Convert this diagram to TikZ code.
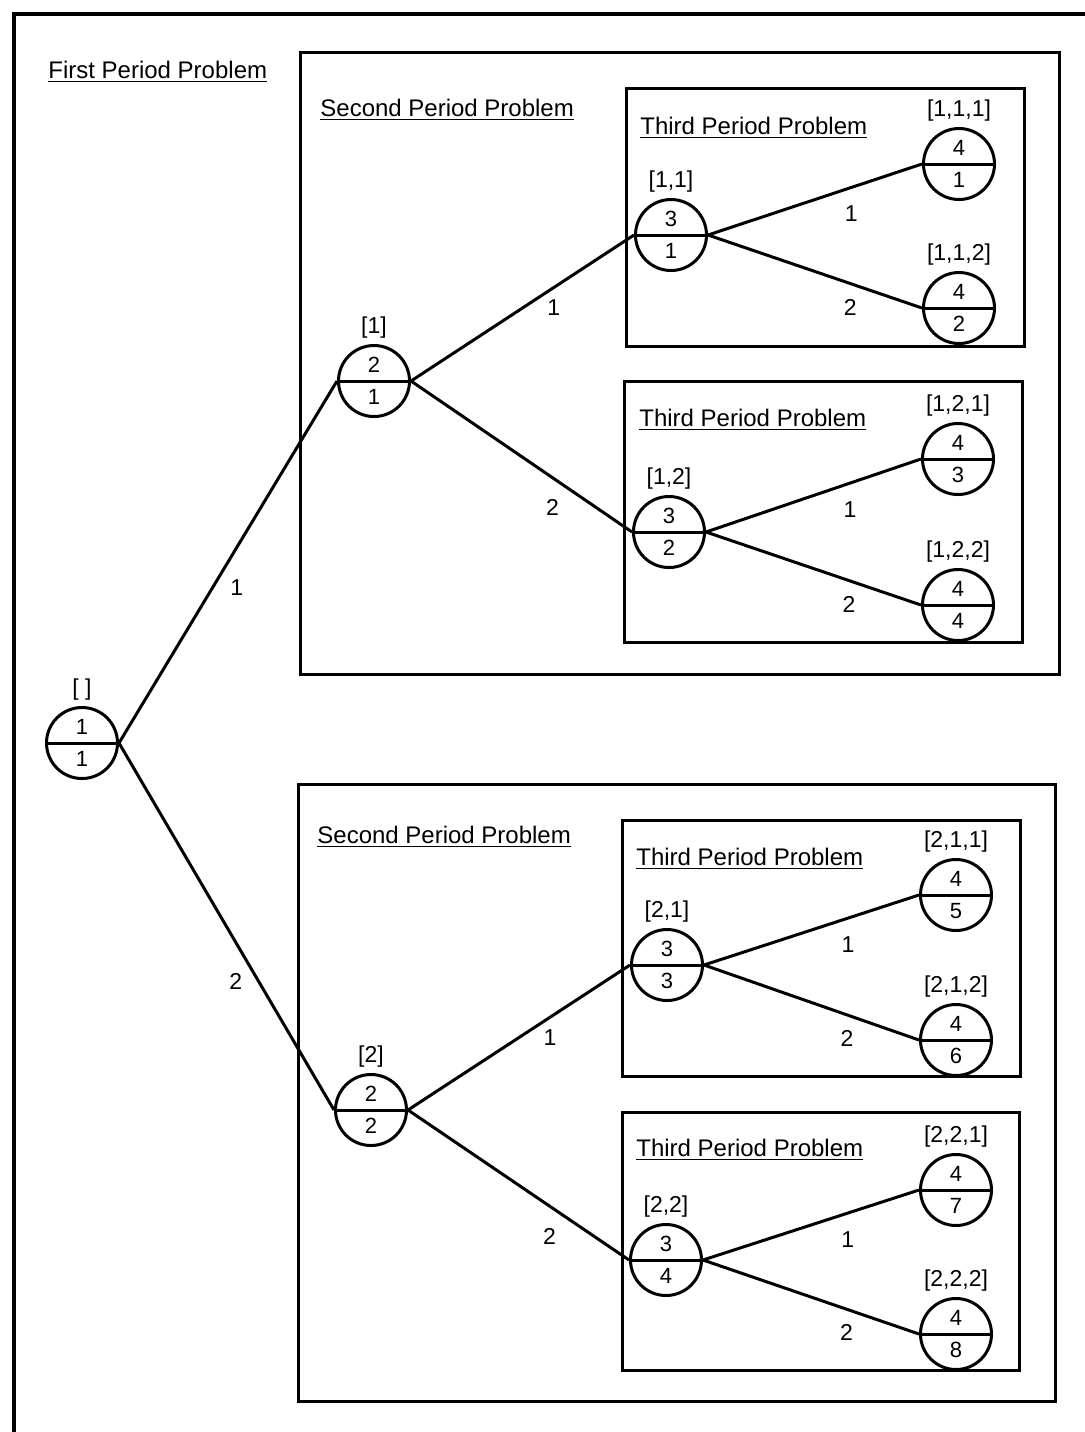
\documentclass[tikz,border=0pt]{standalone}
\usepackage{fontspec}
\setmainfont{Liberation Sans}
\usetikzlibrary{shapes.multipart, positioning}
\tikzset{
  stage/.style={circle split, draw, line width=1.5pt, minimum size=35.5pt, inner sep=3.5pt, font=\fontsize{11}{13}\selectfont},
  hist/.style={inner sep=0pt, font=\fontsize{11.5}{13}\selectfont},
  prob/.style={line width=1.5pt},
  title/.style={anchor=base west, inner sep=0pt, font=\fontsize{12}{14}\selectfont},
  branch/.style={line width=1.5pt},
  choice/.style={inner sep=0pt, font=\fontsize{11.5}{13}\selectfont},
}
\begin{document}
\begin{tikzpicture}[x=0.5pt, y=-0.5pt]
    \useasboundingbox (0,0) rectangle (1085,1432);
    \draw[line width=1.7pt] (14,1432) -- (14,14) -- (1085,14);
    \draw[prob] (300,52) rectangle (1059,674);
    \draw[prob] (626,88) rectangle (1024,346);
    \draw[prob] (624,381) rectangle (1022,642);
    \draw[prob] (298,784) rectangle (1055,1401);
    \draw[prob] (622,820) rectangle (1020,1076);
    \draw[prob] (622,1112) rectangle (1019,1370);
    \node[title] (t1) at (48,78) {\underline{First Period Problem}};
    \node[title] (t2a) at (320,116) {\underline{Second Period Problem}};
    \node[title] (t2b) at (317,843) {\underline{Second Period Problem}};
    \node[title] (t3a) at (640,134) {\underline{Third Period Problem}};
    \node[title] (t3b) at (639,426) {\underline{Third Period Problem}};
    \node[title] (t3c) at (636,865) {\underline{Third Period Problem}};
    \node[title] (t3d) at (636,1156) {\underline{Third Period Problem}};
    \node[stage, label={[hist, label distance=2.5pt]above:{[ ]}}] (r) at (82,743) {1 \nodepart{lower} 1};
    \node[stage, label={[hist, label distance=2.5pt]above:{[1]}}] (n1) at (374,381) {2 \nodepart{lower} 1};
    \node[stage, label={[hist, label distance=2.5pt]above:{[2]}}] (n2) at (371,1110) {2 \nodepart{lower} 2};
    \node[stage, label={[hist, label distance=2.5pt]above:{[1,1]}}] (n11) at (671,235) {3 \nodepart{lower} 1};
    \node[stage, label={[hist, label distance=2.5pt]above:{[1,2]}}] (n12) at (669,532) {3 \nodepart{lower} 2};
    \node[stage, label={[hist, label distance=2.5pt]above:{[2,1]}}] (n21) at (667,965) {3 \nodepart{lower} 3};
    \node[stage, label={[hist, label distance=2.5pt]above:{[2,2]}}] (n22) at (666,1260) {3 \nodepart{lower} 4};
    \node[stage, label={[hist, label distance=2.5pt]above:{[1,1,1]}}] (n111) at (959,164) {4 \nodepart{lower} 1};
    \node[stage, label={[hist, label distance=2.5pt]above:{[1,1,2]}}] (n112) at (959,308) {4 \nodepart{lower} 2};
    \node[stage, label={[hist, label distance=2.5pt]above:{[1,2,1]}}] (n121) at (958,459) {4 \nodepart{lower} 3};
    \node[stage, label={[hist, label distance=2.5pt]above:{[1,2,2]}}] (n122) at (958,605) {4 \nodepart{lower} 4};
    \node[stage, label={[hist, label distance=2.5pt]above:{[2,1,1]}}] (n211) at (956,895) {4 \nodepart{lower} 5};
    \node[stage, label={[hist, label distance=2.5pt]above:{[2,1,2]}}] (n212) at (956,1040) {4 \nodepart{lower} 6};
    \node[stage, label={[hist, label distance=2.5pt]above:{[2,2,1]}}] (n221) at (956,1190) {4 \nodepart{lower} 7};
    \node[stage, label={[hist, label distance=2.5pt]above:{[2,2,2]}}] (n222) at (956,1334) {4 \nodepart{lower} 8};
    \draw[branch] (r.east) -- node[choice, pos=0.43, xshift=12pt] {1} (n1.west);
    \draw[branch] (r.east) -- node[choice, pos=0.65, xshift=-11.5pt] {2} (n2.west);
    \draw[branch] (n1.east) -- node[choice, pos=0.64, yshift=-10pt] {1} (n11.west);
    \draw[branch] (n1.east) -- node[choice, pos=0.64, yshift=-15pt] {2} (n12.west);
    \draw[branch] (n2.east) -- node[choice, pos=0.64, yshift=-10pt] {1} (n21.west);
    \draw[branch] (n2.east) -- node[choice, pos=0.64, yshift=-15pt] {2} (n22.west);
    \draw[branch] (n11.east) -- node[choice, pos=0.67, yshift=-13.3pt] {1} (n111.west);
    \draw[branch] (n11.east) -- node[choice, pos=0.665, yshift=-11.8pt] {2} (n112.west);
    \draw[branch] (n12.east) -- node[choice, pos=0.67, yshift=-13.3pt] {1} (n121.west);
    \draw[branch] (n12.east) -- node[choice, pos=0.665, yshift=-11.8pt] {2} (n122.west);
    \draw[branch] (n21.east) -- node[choice, pos=0.67, yshift=-13.3pt] {1} (n211.west);
    \draw[branch] (n21.east) -- node[choice, pos=0.665, yshift=-11.8pt] {2} (n212.west);
    \draw[branch] (n22.east) -- node[choice, pos=0.67, yshift=-13.3pt] {1} (n221.west);
    \draw[branch] (n22.east) -- node[choice, pos=0.665, yshift=-11.8pt] {2} (n222.west);
\end{tikzpicture}
\end{document}
